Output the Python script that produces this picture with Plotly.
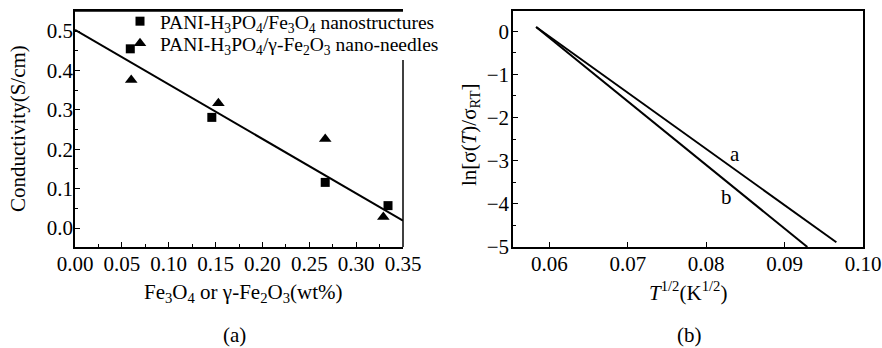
import plotly.graph_objects as go

# Panel (a) data
fe3o4_x = [0.059, 0.146, 0.267, 0.334]
fe3o4_y = [0.455, 0.281, 0.116, 0.057]
fe2o3_x = [0.060, 0.153, 0.267, 0.329]
fe2o3_y = [0.376, 0.317, 0.226, 0.028]
fit_x = [0.0, 0.35]
fit_y = [0.503, 0.019]

# Panel (b) data
line_a_x = [0.0583, 0.0966]
line_a_y = [0.10, -4.89]
line_b_x = [0.0583, 0.0929]
line_b_y = [0.10, -5.00]

W, H = 882, 348
FONT = "Liberation Serif"
FS = 21
LFS = 19.5

def px(x):
    return x / W

def py(y):
    return 1 - y / H

fig = go.Figure()

fig.add_trace(go.Scatter(x=fit_x, y=fit_y, mode="lines", line=dict(color="black", width=2),
                         showlegend=False, xaxis="x", yaxis="y"))
fig.add_trace(go.Scatter(x=fe3o4_x, y=fe3o4_y, mode="markers",
                         marker=dict(symbol="square", size=9, color="black"),
                         name="PANI-H<sub>3</sub>PO<sub>4</sub>/Fe<sub>3</sub>O<sub>4</sub> nanostructures",
                         xaxis="x", yaxis="y", legend="legend"))
fig.add_trace(go.Scatter(x=fe2o3_x, y=fe2o3_y, mode="markers",
                         marker=dict(symbol="triangle-up", size=11, color="black"),
                         name="PANI-H<sub>3</sub>PO<sub>4</sub>/γ-Fe<sub>2</sub>O<sub>3</sub> nano-needles",
                         xaxis="x", yaxis="y", legend="legend2"))

fig.add_trace(go.Scatter(x=line_a_x, y=line_a_y, mode="lines", line=dict(color="black", width=2),
                         showlegend=False, xaxis="x2", yaxis="y2"))
fig.add_trace(go.Scatter(x=line_b_x, y=line_b_y, mode="lines", line=dict(color="black", width=2),
                         showlegend=False, xaxis="x2", yaxis="y2"))

ax_common = dict(showline=True, linecolor="black", linewidth=1.5,
                 ticks="inside", ticklen=5, tickwidth=1.2, tickcolor="black",
                 showgrid=False, zeroline=False, automargin=False,
                 tickfont=dict(family=FONT, size=FS, color="black"))

TOP, BOT = 11, 247
ydom = [py(BOT), py(TOP)]

leg_common = dict(xanchor="left", yanchor="top", bgcolor="rgba(0,0,0,0)", borderwidth=0,
                  font=dict(family=FONT, size=LFS, color="black"), itemwidth=30)

fig.update_layout(
    template="none",
    width=W, height=H,
    margin=dict(l=0, r=0, t=0, b=0, autoexpand=False),
    paper_bgcolor="white", plot_bgcolor="white",
    font=dict(family=FONT, size=FS, color="black"),
    xaxis=dict(domain=[px(75), px(403)], range=[0, 0.35], tickvals=[0, 0.05, 0.1, 0.15, 0.2, 0.25, 0.3, 0.35],
               tickformat=".2f", anchor="y", ticklabelstandoff=-3, mirror=True,
               minor=dict(ticks="inside", ticklen=3, dtick=0.025, tick0=0, tickcolor="black", tickwidth=1.2),
               **ax_common),
    yaxis=dict(domain=ydom, range=[-0.048, 0.551], tickvals=[0, 0.1, 0.2, 0.3, 0.4, 0.5],
               tickformat=".1f", anchor="x", ticklabelstandoff=-4, mirror=False,
               minor=dict(ticks="inside", ticklen=3, dtick=0.05, tick0=0, tickcolor="black", tickwidth=1.2),
               **ax_common),
    xaxis2=dict(domain=[px(513), px(863)], range=[0.05535, 0.10], tickvals=[0.06, 0.07, 0.08, 0.09, 0.10],
                tickformat=".2f", anchor="y2", ticklabelstandoff=-3, mirror=True,
                **ax_common),
    yaxis2=dict(domain=ydom, range=[-5.0, 0.47], tickvals=[0, -1, -2, -3, -4, -5],
                anchor="x2", ticklabelstandoff=-2, mirror=True,
                minor=dict(ticks="inside", ticklen=3, dtick=0.5, tick0=0, tickcolor="black", tickwidth=1.2),
                **ax_common),
    legend=dict(x=px(120), y=py(2), **leg_common),
    legend2=dict(x=px(120), y=py(24), **leg_common),
    showlegend=True,
)

# frame of panel (a): top edge, and right edge hidden behind the legend at the top
LEG_BOTTOM = 60
fig.add_shape(type="line", xref="x domain", yref="y domain", x0=0, x1=1, y0=1, y1=1,
              line=dict(color="black", width=1.5))
fig.add_shape(type="line", xref="x domain", yref="y domain", x0=1, x1=1, y0=0,
              y1=(BOT - LEG_BOTTOM) / (BOT - TOP), line=dict(color="black", width=1.5))

annos = [
    dict(text="Conductivity(S/cm)", x=px(18), y=py(129), textangle=-90),
    dict(text="Fe<sub>3</sub>O<sub>4</sub> or γ-Fe<sub>2</sub>O<sub>3</sub>(wt%)", x=px(243), y=py(293)),
    dict(text="(a)", x=px(234), y=py(335)),
    dict(text="ln[σ(<i>T</i>)/σ<sub>RT</sub>]", x=px(470), y=py(135), textangle=-90),
    dict(text="<i>T</i><sup>1/2</sup>(K<sup>1/2</sup>)", x=px(688), y=py(291)),
    dict(text="(b)", x=px(689), y=py(335)),
]
for a in annos:
    fig.add_annotation(xref="paper", yref="paper", showarrow=False, xanchor="center", yanchor="middle",
                       font=dict(family=FONT, size=FS, color="black"), **a)

fig.add_annotation(text="a", x=0.0837, y=-2.85, xref="x2", yref="y2", showarrow=False,
                   font=dict(family=FONT, size=FS, color="black"))
fig.add_annotation(text="b", x=0.0826, y=-3.85, xref="x2", yref="y2", showarrow=False,
                   font=dict(family=FONT, size=FS, color="black"))

fig.write_html("out.html", config={"displayModeBar": False},
               post_script="document.body.style.margin='0';document.body.style.overflow='hidden';")
